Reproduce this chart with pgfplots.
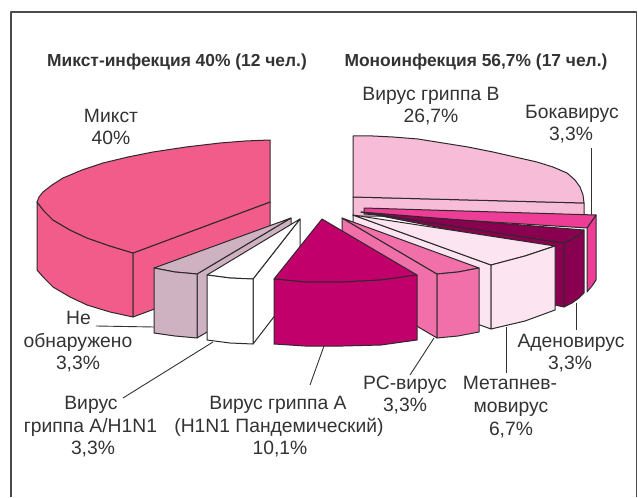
\documentclass[border=0pt]{standalone}
\usepackage{pgfplots}
\pgfplotsset{compat=1.18}
\usepackage{fontspec}
\setmainfont{Liberation Sans}
\definecolor{txt}{HTML}{333333}
\definecolor{edge}{HTML}{2E2A2C}
\definecolor{mix}{HTML}{F25C8B}
\definecolor{grey}{HTML}{CEB2C1}
\definecolor{mag}{HTML}{C2006B}
\definecolor{rs}{HTML}{F170AA}
\definecolor{met}{HTML}{FCE5F0}
\definecolor{ade}{HTML}{8A0050}
\definecolor{boc}{HTML}{EE3D96}
\definecolor{flu}{HTML}{F7BDD8}
\newcommand{\lab}[3]{\node[text=txt,font=\fontsize{19.3}{22}\selectfont,inner sep=0pt,anchor=base] at (axis cs:#1,#2) {#3};}
\begin{document}
\begin{tikzpicture}
\begin{axis}[width=638pt,height=497pt,scale only axis,hide axis,
  xmin=0,xmax=638,ymin=0,ymax=497,y dir=reverse,clip=false,
  every axis plot/.append style={line join=round,no markers,line width=1pt,draw=edge}]
\path (axis cs:0,0) rectangle (axis cs:638,497);
% frame
\addplot[draw=edge!85,line width=1.2pt] coordinates {(11,497)(11,12)(636.5,12)(636.5,497)};
% leaders
\addplot[draw=txt,line width=.9pt] coordinates {(591,148)(591,215)};
\addplot[draw=txt,line width=.9pt] coordinates {(576,303)(576,330)};
\addplot[draw=txt,line width=.9pt] coordinates {(506,327)(506,373)};
\addplot[draw=txt,line width=.9pt] coordinates {(434,338)(410,375)};
\addplot[draw=txt,line width=.9pt] coordinates {(324,346)(310,385)};
\addplot[draw=txt,line width=.9pt] coordinates {(213,342)(123,398)};
\addplot[draw=txt,line width=.9pt] coordinates {(96,326)(154,327)};
% mixed wall
\addplot[fill=mix] coordinates {(37,202)(37,270)(44,278)(53,287)(70,297)(87,305)(110,312)(133,317)(133,253)(110,246)(87,238)(70,230)(53,220)(44,211)} --cycle;
\addplot[fill=mix] coordinates {(133,253)(270,202)(270,266)(133,317)} --cycle;
% mixed top
\addplot[fill=mix] coordinates {(270,140)(245,141)(220,143)(186,147)(153,152)(128,157)(103,163)(82,170)(63,178)(52,185)(43,192)(39,197)(37,202)(44,211)(53,220)(70,230)(87,238)(110,246)(133,253)(270,202)} --cycle;
% grey
\addplot[fill=grey] coordinates {(197,274)(291,218)(291,282)(197,338)} --cycle;
\addplot[fill=grey] coordinates {(154,268)(175,272)(197,274)(291,218)} --cycle;
\addplot[fill=grey] coordinates {(154,268)(175,272)(197,274)(197,338)(175,336)(154,333)} --cycle;
% white
\addplot[fill=white] coordinates {(253,279)(300,219)(300,283)(253,344)} --cycle;
\addplot[fill=white] coordinates {(207,275)(230,278)(253,279)(300,219)} --cycle;
\addplot[fill=white] coordinates {(207,275)(230,278)(253,279)(253,344)(230,343)(207,340)} --cycle;
% flu B
\addplot[fill=flu] coordinates {(353,197)(584,203)(584,216)(353,216)} --cycle;
\addplot[fill=flu] coordinates {(353,136)(373,136)(393,137)(418,139)(443,143)(468,147)(493,152)(515,157)(537,162)(553,167)(567,173)(575,180)(580,187)(583,195)(584,203)(353,197)} --cycle;
% boca
\addplot[fill=boc] coordinates {(587,228)(596,215)(596,280)(592,286)(587,292)} --cycle;
\addplot[fill=boc] coordinates {(364,208)(596,215)(587,228)(364,214)} --cycle;
% adeno
\addplot[fill=ade] coordinates {(361,212)(564,243)(564,307)(555,305)(553,250)} --cycle;
\addplot[fill=ade] coordinates {(564,243)(572,239)(579,235)(584,230)(584,293)(579,298)(572,303)(564,307)} --cycle;
\addplot[fill=ade] coordinates {(361,212)(584,230)(579,235)(572,239)(564,243)} --cycle;
% metapneumo
\addplot[fill=met] coordinates {(353,215)(491,265)(491,329)(353,279)} --cycle;
\addplot[fill=met] coordinates {(353,215)(555,246)(525,256)(491,265)} --cycle;
\addplot[fill=met] coordinates {(491,265)(525,256)(555,246)(555,310)(525,321)(491,329)} --cycle;
% RS
\addplot[fill=rs] coordinates {(342,218)(437,274)(437,338)(342,282)} --cycle;
\addplot[fill=rs] coordinates {(342,218)(479,268)(458,272)(437,274)} --cycle;
\addplot[fill=rs] coordinates {(437,274)(458,272)(479,268)(479,332)(458,336)(437,338)} --cycle;
% magenta
\addplot[fill=mag] coordinates {(322,219)(417,275)(381,280)(343,282)(305,282)(274,279)} --cycle;
\addplot[fill=mag] coordinates {(274,279)(305,282)(343,282)(381,280)(417,275)(417,340)(381,345)(343,346)(305,346)(274,344)} --cycle;
% titles
\node[text=txt,font=\fontsize{17.4}{20}\bfseries\selectfont,inner sep=0pt,anchor=base] at (axis cs:177,67) {Микст-инфекция 40\% (12 чел.)};
\node[text=txt,font=\fontsize{17.4}{20}\bfseries\selectfont,inner sep=0pt,anchor=base] at (axis cs:476,67) {Моноинфекция 56,7\% (17 чел.)};
\lab{431}{100}{Вирус гриппа В}
\lab{431}{123}{26,7\%}
\lab{572}{118}{Бокавирус}
\lab{571}{141}{3,3\%}
\lab{111}{122}{Микст}
\lab{111}{145}{40\%}
\lab{78.5}{324}{Не}
\lab{78}{347}{обнаружено}
\lab{78}{369}{3,3\%}
\lab{91}{409}{Вирус}
\lab{90.5}{432}{гриппа А/H1N1}
\lab{93}{454}{3,3\%}
\lab{278}{409}{Вирус гриппа А}
\lab{279}{432}{(H1N1 Пандемический)}
\lab{280}{454}{10,1\%}
\lab{405}{389}{РС-вирус}
\lab{405}{411}{3,3\%}
\lab{510}{389}{Метапнев-}
\lab{511}{412}{мовирус}
\lab{511}{435}{6,7\%}
\lab{571}{347}{Аденовирус}
\lab{570}{369}{3,3\%}
\end{axis}
\end{tikzpicture}
\end{document}
